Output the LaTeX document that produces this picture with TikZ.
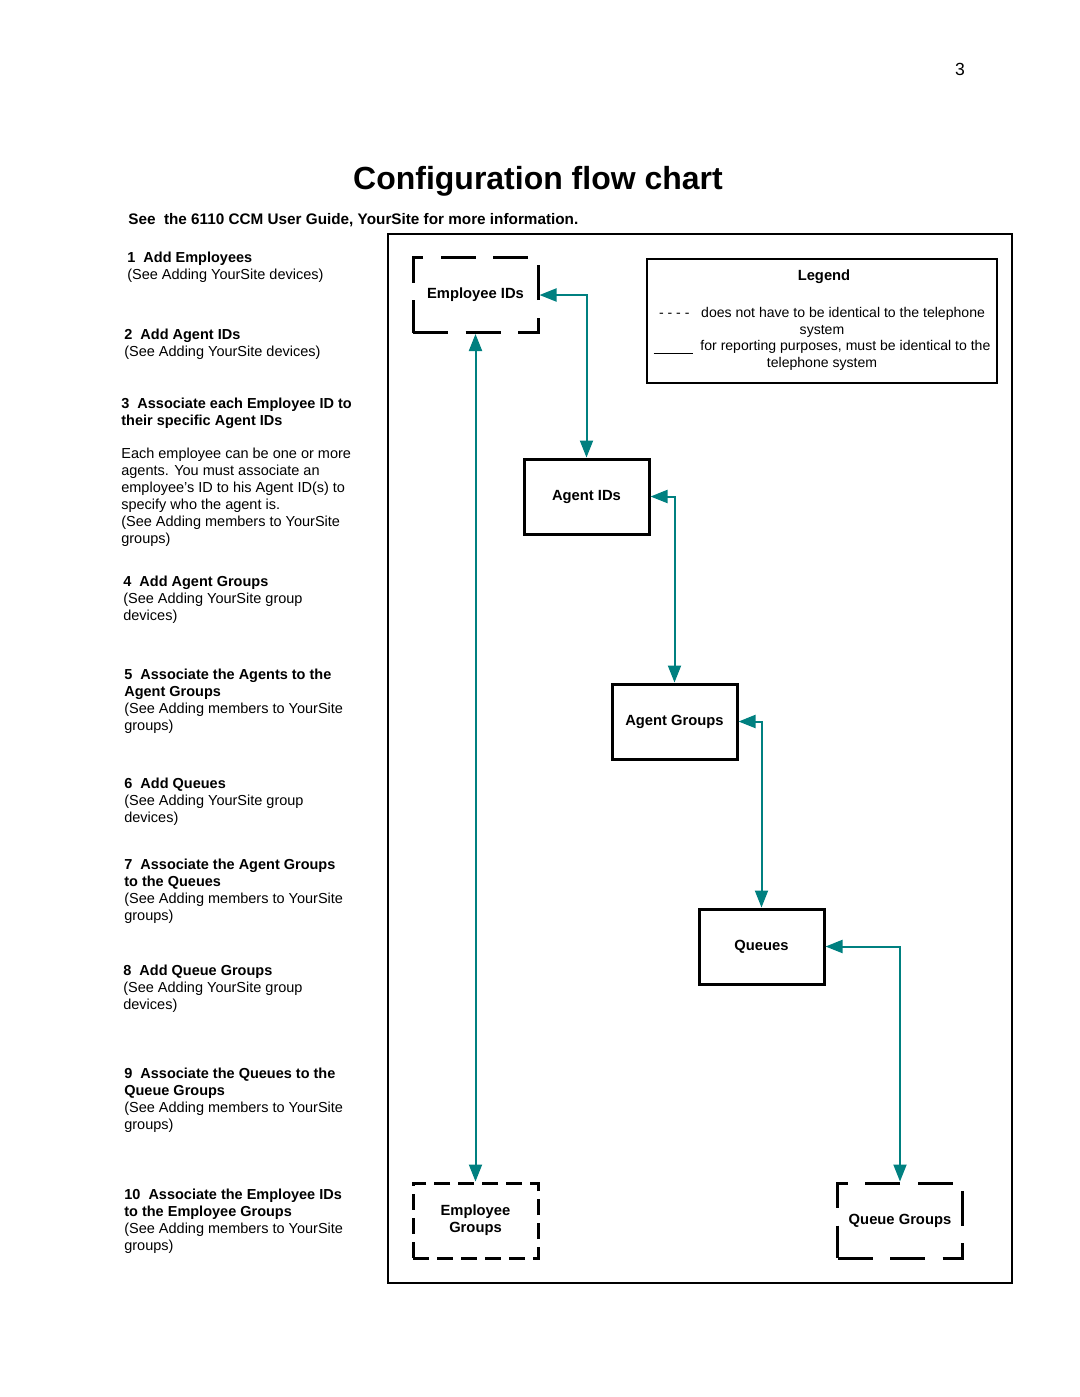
\documentclass[tikz,border=0pt]{standalone}
\usepackage{fontspec}
\setmainfont{Liberation Sans}
\usetikzlibrary{calc,positioning,arrows.meta}

\definecolor{flowteal}{RGB}{0,128,128}

\begin{document}
\begin{tikzpicture}[x=0.2mm,y=-0.2mm]
  \useasboundingbox (0,0) rectangle (1080,1397);
  \tikzstyle{every node}=[inner sep=0pt, font=\fontsize{8.25}{9.64}\selectfont]
  \tikzstyle{stepnote}=[anchor=north west, align=left]
  \tikzstyle{flowbox}=[draw, line width=0.6mm, minimum width=25mm, minimum height=15mm,
    align=center, font=\fontsize{8.4}{9.64}\selectfont\bfseries]
  \tikzstyle{longdash}=[dash pattern=on 7mm off 3.5mm, dash phase=0mm]
  \tikzstyle{shortdash}=[dash pattern=on 3.2mm off 1.6mm]
  \tikzstyle{flowlink}=[draw=flowteal, line width=0.4mm,
    {Triangle[length=3.4mm,width=2.6mm]}-{Triangle[length=3.4mm,width=2.6mm]}]

  % header
  \node[font=\fontsize{10}{12}\selectfont] (pageno) at (960,69) {3};
  \node[font=\fontsize{18.2}{21}\selectfont\bfseries] (title) at (538,181) {Configuration flow chart};
  \node[anchor=west, font=\fontsize{8.7}{10}\selectfont\bfseries] (seeguide) at (128,220)
    {See\ \ the 6110 CCM User Guide, YourSite for more information.};

  % steps on the left
  \foreach \px/\py/\txt [count=\i] in {
    127/252/{\textbf{1\ \ Add Employees}\\(See Adding YourSite devices)},
    124/329/{\textbf{2\ \ Add Agent IDs}\\(See Adding YourSite devices)},
    121/398/{\textbf{3\ \ Associate each Employee ID to}\\\textbf{their specific Agent IDs}\\[3.2mm]
      Each employee can be one or more\\agents. You must associate an\\
      employee's ID to his Agent ID(s) to\\specify who the agent is.\\
      (See Adding members to YourSite\\groups)},
    123/576/{\textbf{4\ \ Add Agent Groups}\\(See Adding YourSite group\\devices)},
    124/669/{\textbf{5\ \ Associate the Agents to the}\\\textbf{Agent Groups}\\
      (See Adding members to YourSite\\groups)},
    124/778/{\textbf{6\ \ Add Queues}\\(See Adding YourSite group\\devices)},
    124/859/{\textbf{7\ \ Associate the Agent Groups}\\\textbf{to the Queues}\\
      (See Adding members to YourSite\\groups)},
    123/965/{\textbf{8\ \ Add Queue Groups}\\(See Adding YourSite group\\devices)},
    124/1068/{\textbf{9\ \ Associate the Queues to the}\\\textbf{Queue Groups}\\
      (See Adding members to YourSite\\groups)},
    124/1189/{\textbf{10\ \ Associate the Employee IDs}\\\textbf{to the Employee Groups}\\
      (See Adding members to YourSite\\groups)}}{
    \node[stepnote] (step\i) at (\px,\py) {\txt};
  }

  % chart frame and legend
  \draw[line width=0.3mm] (388,234) rectangle (1012,1283);
  \draw[line width=0.3mm] (647,259) rectangle (997,383);
  \node[font=\fontsize{8.4}{10}\selectfont\bfseries] (legend) at (824,277) {Legend};
  \node[anchor=north, align=center, font=\fontsize{8}{9.47}\selectfont] (legendtxt) at (822,307)
    {- - - -\ \ \ does not have to be identical to the telephone\\system\\
     \rule[-0.4ex]{7.8mm}{0.2mm}\ \ for reporting purposes, must be identical to the\\telephone system};

  % the boxes
  \node[flowbox, longdash] (empid) at (475.5,295) {Employee IDs};
  \node[flowbox] (agid) at (586.5,496.5) {Agent IDs};
  \node[flowbox] (agrp) at (674.5,721.5) {Agent Groups};
  \node[flowbox] (que) at (761.5,946.5) {Queues};
  \node[flowbox, shortdash] (empgrp) at (475.5,1220.5) {Employee\\Groups};
  \node[flowbox, longdash] (quegrp) at (900,1220.5) {Queue Groups};

  % links
  \draw[flowlink] (empid.east) -| (agid.north);
  \draw[flowlink] (agid.east) -| (agrp.north);
  \draw[flowlink] (agrp.east) -| (que.north);
  \draw[flowlink] (que.east) -| (quegrp.north);
  \draw[flowlink] (empid.south) -- (empgrp.north);
\end{tikzpicture}
\end{document}
